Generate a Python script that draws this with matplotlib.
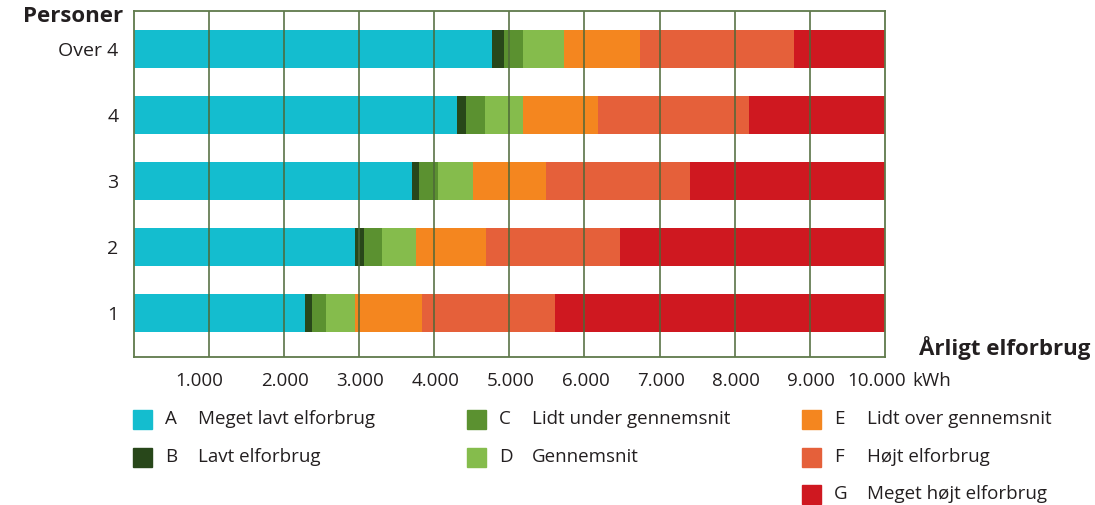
import matplotlib
matplotlib.use('Agg')
import matplotlib.pyplot as plt
import numpy as np
from matplotlib.patches import Rectangle

plt.rcParams['font.family'] = ['Open Sans', 'DejaVu Sans']

# household sizes, bottom to top
persons = ['1', '2', '3', '4', 'Over 4']

# segment widths in kWh per category (A..G), one value per household size
cat_a = [2280, 2950, 3700, 4300, 4770]
cat_b = [90, 110, 100, 130, 160]
cat_c = [190, 250, 250, 240, 250]
cat_d = [390, 450, 470, 510, 550]
cat_e = [890, 930, 970, 1000, 1010]
cat_f = [1770, 1780, 1920, 2010, 2050]
cat_g = [4390, 3530, 2590, 1810, 1210]

letters = ['A', 'B', 'C', 'D', 'E', 'F', 'G']
names = ['Meget lavt elforbrug', 'Lavt elforbrug', 'Lidt under gennemsnit',
         'Gennemsnit', 'Lidt over gennemsnit', 'Højt elforbrug',
         'Meget højt elforbrug']
colors = ['#14bdcf', '#28471a', '#5b9130', '#85bc4c', '#f4861f',
          '#e5603a', '#cf1820']

xticks = [1000, 2000, 3000, 4000, 5000, 6000, 7000, 8000, 9000, 10000]
xticklabels = ['1.000', '2.000', '3.000', '4.000', '5.000', '6.000',
               '7.000', '8.000', '9.000', '10.000']

W, H = 1095, 505
fig = plt.figure(figsize=(W / 100, H / 100), dpi=100)


def px(x, y):
    return x / W, 1 - y / H


ax = fig.add_axes([133.6 / W, 1 - 357 / H, (885 - 133.6) / W, (357 - 11) / H])

series = [cat_a, cat_b, cat_c, cat_d, cat_e, cat_f, cat_g]
ypos = np.arange(len(persons))
left = np.zeros(len(persons))
for vals, col in zip(series, colors):
    ax.barh(ypos, vals, left=left, height=0.576, color=col, zorder=2)
    left += np.array(vals)

ax.set_xlim(0, 10000)
ax.set_ylim(-0.667, 4.576)

grid_col = '#4d6838'
for t in xticks[:-1]:
    ax.axvline(t, color=grid_col, lw=1.3, alpha=0.85, zorder=3)
for s in ax.spines.values():
    s.set_color('#5f7a4b')
    s.set_linewidth(1.3)
    s.set_zorder(4)

ax.set_yticks(ypos)
ax.set_yticklabels(persons, fontsize=14, color='#231f20')
ax.tick_params(axis='y', length=0, pad=11)
ax.set_xticks([])

txt = '#231f20'
for t, lab in zip(xticks, xticklabels):
    off = {1000: -130, 10000: -107}.get(t, 20)
    ax.text(t + off, -0.667 - 24 / 66, lab, ha='center', va='center',
            fontsize=13.5, color=txt)
fig.text(*px(912, 381), 'kWh', ha='left', va='center', fontsize=13.5,
         color=txt)

fig.text(*px(123, 17), 'Personer', ha='right', va='center', fontsize=16,
         fontweight='bold', color=txt)
fig.text(*px(1090, 348), 'Årligt elforbrug', ha='right', va='center',
         fontsize=16, fontweight='bold', color=txt)

# legend, three columns
col_x = [133, 467, 802]
row_y = [419, 457, 494]
slots = [(0, 0), (0, 1), (1, 0), (1, 1), (2, 0), (2, 1), (2, 2)]
for i, (c, r) in enumerate(slots):
    x0, y0 = col_x[c], row_y[r]
    fig.patches.append(Rectangle(px(x0, y0 + 9.5), 19 / W, 19 / H,
                                 transform=fig.transFigure,
                                 color=colors[i]))
    fig.text(*px(x0 + 32, y0), letters[i], ha='left', va='center',
             fontsize=13.5, color=txt)
    fig.text(*px(x0 + 65, y0), names[i], ha='left', va='center',
             fontsize=13.5, color=txt)

fig.savefig('out.png', dpi=100)
